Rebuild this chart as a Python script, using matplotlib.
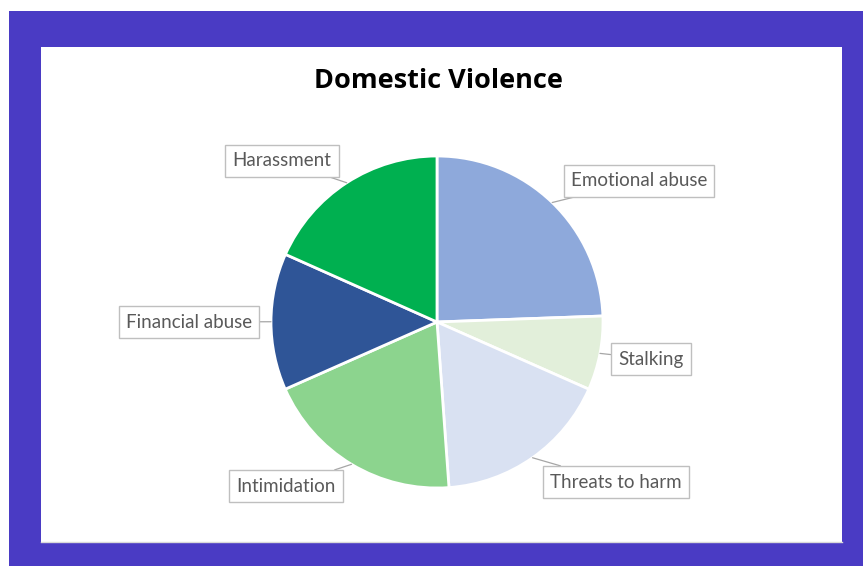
import numpy as np
import matplotlib.pyplot as plt
from matplotlib.patches import Rectangle

# data (share of each abuse type, %)
categories = ["Emotional abuse", "Stalking", "Threats to harm",
              "Intimidation", "Financial abuse", "Harassment"]
shares = [24.4, 7.2, 17.2, 19.5, 13.3, 18.3]
colors = ["#8EA9DB", "#E2EFDA", "#D9E1F2", "#8CD48E", "#2F5597", "#00B050"]

# label box centres in image pixels (top-left origin)
label_pos = [(639, 181), (651, 359), (616, 482),
             (286, 486), (189, 322), (282, 161)]

W, H = 863, 566
fig = plt.figure(figsize=(W / 100, H / 100), dpi=100)
fig.patch.set_facecolor("white")

# purple frame and white chart area
bg = fig.add_axes([0, 0, 1, 1])
bg.set_xlim(0, W)
bg.set_ylim(H, 0)
bg.axis("off")
bg.add_patch(Rectangle((9, 11), W - 9, H - 11, color="#4A3BC4", lw=0))
bg.add_patch(Rectangle((41, 47), 801, 495, color="white", lw=0))
bg.plot([41, 842], [541.5, 541.5], color="#d9d9d9", lw=1)

bg.text(438, 81, "Domestic Violence", ha="center", va="center",
        fontsize=19.5, fontweight="bold", family="Open Sans", color="black")

# pie
cx, cy, r = 437, 322, 166
half = 172
ax = fig.add_axes([(cx - half) / W, (H - cy - half) / H, 2 * half / W, 2 * half / H])

wedges, _ = ax.pie(shares, colors=colors, startangle=90, counterclock=False,
                   radius=1, wedgeprops=dict(edgecolor="white", linewidth=2))
# pie() resets the limits, so fix them afterwards
ax.set_xlim(-half / r, half / r)
ax.set_ylim(-half / r, half / r)
ax.axis("off")

for w, lab, (px, py) in zip(wedges, categories, label_pos):
    mid = np.deg2rad((w.theta1 + w.theta2) / 2)
    ax.annotate(lab, xy=(np.cos(mid), np.sin(mid)), xycoords="data",
                xytext=(px, H - py), textcoords="figure pixels",
                ha="center", va="center", fontsize=13.5, family="Lato",
                color="#595959",
                bbox=dict(boxstyle="square,pad=0.38", fc="white", ec="#bfbfbf", lw=1),
                arrowprops=dict(arrowstyle="-", color="#a6a6a6", lw=0.9,
                                shrinkA=0, shrinkB=0))

fig.savefig("out.png", dpi=100)
